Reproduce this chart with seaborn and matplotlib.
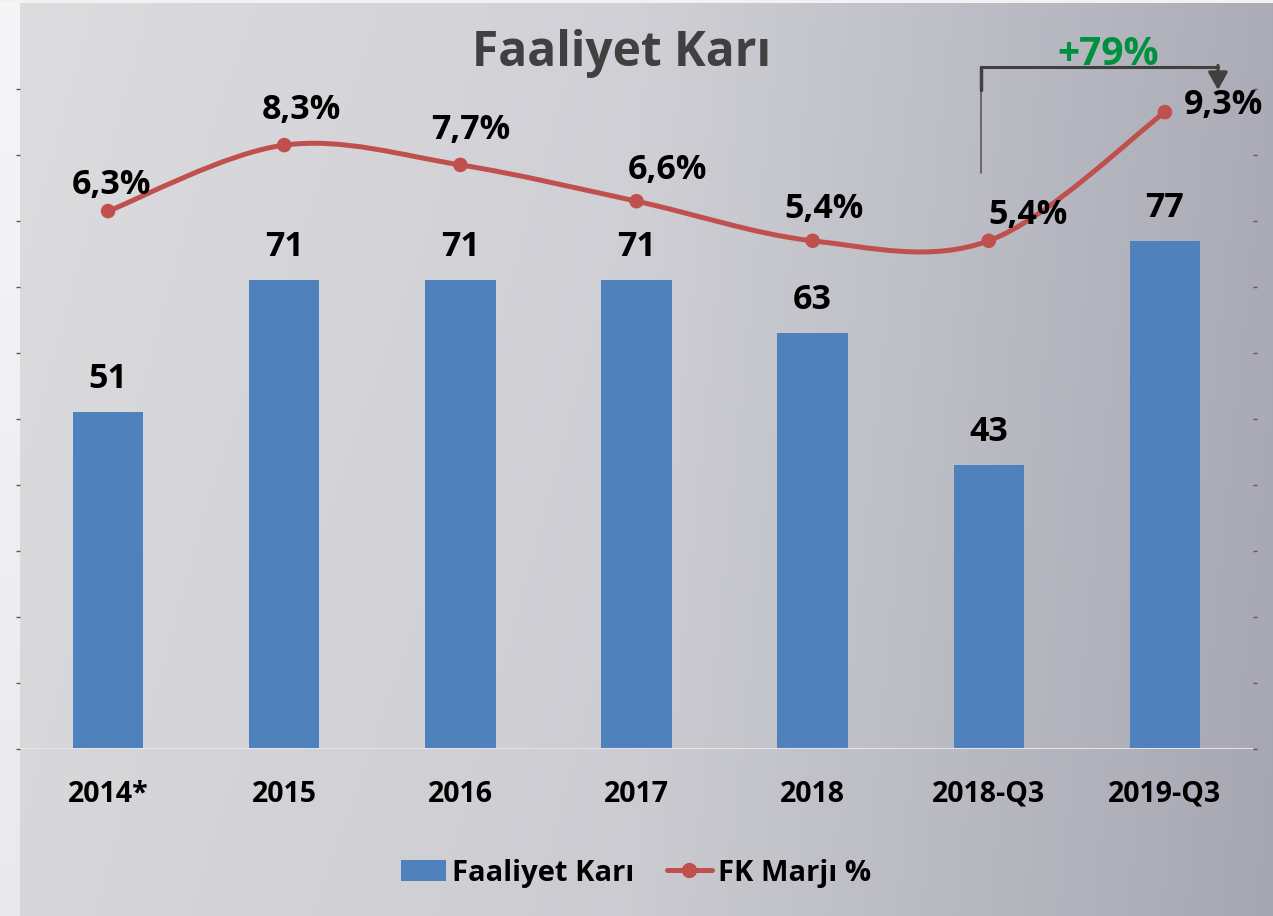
import numpy as np
import pandas as pd
import matplotlib.pyplot as plt
import seaborn as sns
from matplotlib.path import Path
from matplotlib.patches import PathPatch, Patch
from matplotlib.lines import Line2D

# data
periods = ["2014*", "2015", "2016", "2017", "2018", "2018-Q3", "2019-Q3"]
profit = [51, 71, 71, 71, 63, 43, 77]          # Faaliyet Karı
margin = [6.3, 8.3, 7.7, 6.6, 5.4, 5.4, 9.3]   # FK Marjı %
growth_label = "+79%"

BAR_BLUE = "#4F81BD"
LINE_RED = "#C0504D"

sns.set_theme(style="white")
plt.rcParams["font.family"] = ["Open Sans", "DejaVu Sans"]
plt.rcParams["font.weight"] = "bold"

fig = plt.figure(figsize=(12.73, 9.16), dpi=100)

# gradient background (slide + chart area)
bg = fig.add_axes([0, 0, 1, 1], zorder=-10)
W, H = 1273, 916
xx = np.linspace(0, 1, W)[None, :]
yy = np.linspace(0, 1, H)[:, None]
left_c = np.array([221, 221, 224]) / 255
mid_c = np.array([208, 208, 214]) / 255
right_c = np.array([172, 172, 184]) / 255
t = xx[..., None]
col = np.where(t < 0.5, left_c + (mid_c - left_c) * (t / 0.5),
               mid_c + (right_c - mid_c) * ((t - 0.5) / 0.5))
col = col - 0.02 * yy[..., None]
img = np.broadcast_to(col, (H, W, 3)).copy()
# white slide strip on the left / top
strip = np.linspace(0.965, 0.915, H)[:, None]
img[:, :20, :] = strip[..., None] * np.array([1.0, 1.0, 1.01])
img[:3, :, :] = 0.95
bg.imshow(np.clip(img, 0, 1), aspect="auto", extent=[0, 1, 0, 1])
bg.axis("off")

ax = fig.add_axes([20 / W, 167 / H, 1233 / W, 660 / H])
ax.set_facecolor("none")

df = pd.DataFrame({"period": periods, "profit": profit, "margin": margin})
sns.barplot(data=df, x="period", y="profit", color=BAR_BLUE, width=0.4,
            saturation=1, linewidth=0, ax=ax, zorder=2)
ax.set_xlim(-0.5, len(periods) - 0.5)
ax.set_ylim(0, 100)
ax.set_yticks(range(0, 101, 10))
ax.set_yticklabels([])
ax.set_xlabel("")
ax.set_ylabel("")
ax.axhline(0, color="#e4e4e6", lw=2.2, zorder=3)
for s in ax.spines.values():
    s.set_visible(False)
ax.tick_params(axis="y", left=True, length=3, width=1, color="#595959", direction="out")
ax.tick_params(axis="x", length=0, pad=22, labelsize=20.5)
for lab in ax.get_xticklabels():
    lab.set_fontweight("bold")
    lab.set_color("black")

for i, v in enumerate(profit):
    ax.annotate(f"{v}", (i, v), xytext=(0, 33), textcoords="offset pixels",
                ha="center", va="center", fontsize=24.5, fontweight="bold", color="black")

# margin line on secondary axis
ax2 = ax.twinx()
ax2.set_ylim(-10, 10)
ax2.set_yticks(range(-10, 11, 2))
ax2.set_yticklabels([])
for s in ax2.spines.values():
    s.set_visible(False)
ax2.tick_params(axis="y", right=True, length=3, width=1, color="#595959", direction="out")

# smoothed line (Catmull-Rom style bezier, like the spreadsheet's smooth line)
pts = np.column_stack([np.arange(len(margin)), margin]).astype(float)
verts = [tuple(pts[0])]
codes = [Path.MOVETO]
n = len(pts)
for i in range(n - 1):
    p0 = pts[max(i - 1, 0)]
    p1 = pts[i]
    p2 = pts[i + 1]
    p3 = pts[min(i + 2, n - 1)]
    c1 = p1 + (p2 - p0) / 6
    c2 = p2 - (p3 - p1) / 6
    verts += [tuple(c1), tuple(c2), tuple(p2)]
    codes += [Path.CURVE4] * 3
ax2.add_patch(PathPatch(Path(verts, codes), facecolor="none", edgecolor=LINE_RED,
                        lw=3.6, capstyle="round", zorder=4))
sns.scatterplot(x=np.arange(len(margin)), y=margin, ax=ax2, color=LINE_RED,
                s=110, edgecolor="none", zorder=5, legend=False)

label_offsets = [(3, 26), (17, 35), (10, 35), (31, 31), (11, 32), (39, 26), (59, 7)]
for i, v in enumerate(margin):
    dx, dy = label_offsets[i]
    ax2.annotate(f"{v:.1f}%".replace(".", ","), (i, v), xytext=(dx, dy),
                 textcoords="offset pixels", ha="center", va="center",
                 fontsize=24.5, fontweight="bold", color="black", zorder=6)

# growth bracket 2018-Q3 -> 2019-Q3
bx0, bx1 = 5 - 8 / 176, 6 + 53 / 176
ax2.plot([bx0, bx0], [7.45, 10.67], color="#595959", lw=1.2, clip_on=False, zorder=6)
ax2.plot([bx0, bx0], [9.97, 10.67], color="#404040", lw=2.5, clip_on=False, zorder=6)
ax2.plot([bx0, bx1], [10.67, 10.67], color="#404040", lw=2.2, clip_on=False, zorder=6)
ax2.annotate("", xy=(bx1, 9.97), xytext=(bx1, 10.72),
             arrowprops=dict(arrowstyle="-|>,head_length=0.9,head_width=0.5",
                             color="#404040", lw=2.2, shrinkA=0, shrinkB=0),
             annotation_clip=False)
ax2.text(5.676, 11.06, growth_label, ha="center", va="center",
         fontsize=28, fontweight="bold", color="#00913F", clip_on=False)

fig.text(622 / W, 1 - 53 / H, "Faaliyet Karı", ha="center", va="center",
         fontsize=34.5, fontweight="bold", color="#404040")

handles = [Patch(facecolor=BAR_BLUE, edgecolor="none", label="Faaliyet Karı"),
           Line2D([0], [0], color=LINE_RED, lw=3.6, marker="o", markersize=10,
                  label="FK Marjı %")]
fig.legend(handles=handles, loc="center", bbox_to_anchor=(636 / W, 1 - 873 / H),
           ncol=2, frameon=False, prop={"size": 21, "weight": "bold"}, labelcolor="black",
           handlelength=1.55, handleheight=0.75, handletextpad=0.2, columnspacing=1.1)

fig.savefig("out.png", dpi=100)
